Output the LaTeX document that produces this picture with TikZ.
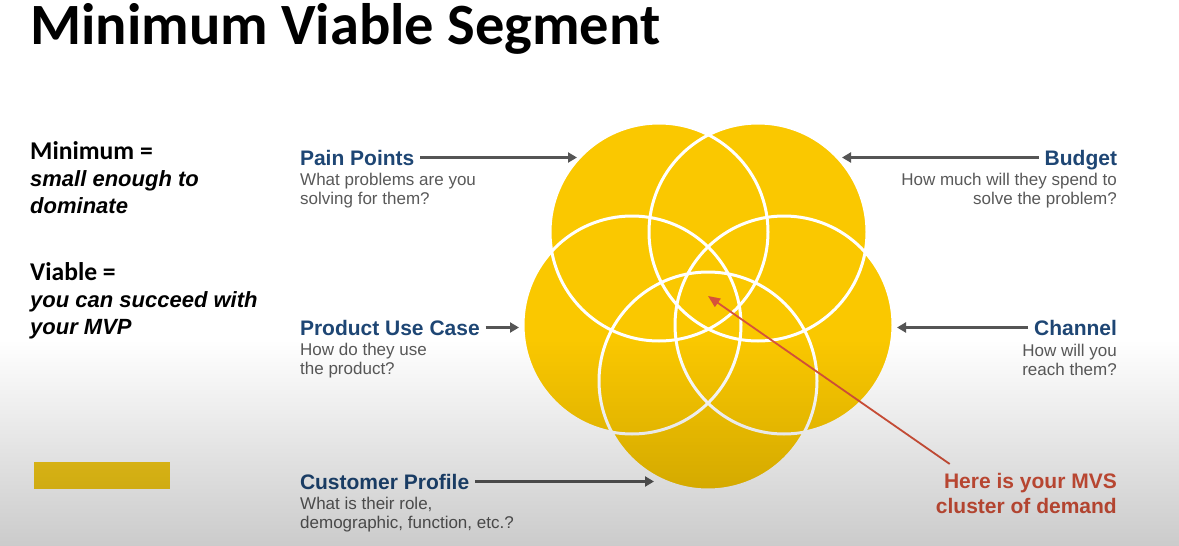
\documentclass[tikz,border=0pt]{standalone}
\usepackage{fontspec}
\setmainfont{Liberation Sans}
\newfontfamily\titlefont{Carlito}
\usetikzlibrary{arrows.meta}

\definecolor{mvsyellow}{HTML}{FAC800}
\definecolor{bargold}{HTML}{F4CA17}
\definecolor{headblue}{HTML}{1E4674}
\definecolor{descgray}{HTML}{595959}
\definecolor{arrowgray}{HTML}{555555}
\definecolor{mvsred}{HTML}{D6523A}
\definecolor{floorgray}{HTML}{CBCBCB}

% soft grey floor that darkens the lower part of the slide
% (the path is fitted to the central 25bp--75bp band of the shading)
\pgfdeclareverticalshading{floorfade}{100bp}{color(0bp)=(floorgray); color(25bp)=(floorgray); color(75bp)=(white); color(100bp)=(white)}

\begin{document}
\begin{tikzpicture}[x=1pt,y=-1pt,
  heading/.style={font=\fontsize{21}{25}\selectfont\bfseries, text=headblue,
    inner sep=0pt, outer sep=0pt, text height=15pt, text depth=0pt},
  desc/.style={font=\fontsize{17}{19}\selectfont, text=descgray, inner sep=0pt},
  keyword/.style={font=\titlefont\fontsize{25.6}{28}\selectfont\bfseries, inner sep=0pt},
  meaning/.style={font=\fontsize{22}{27}\selectfont\bfseries\itshape, inner sep=0pt, align=left},
  petal/.style={circle, minimum size=218pt, inner sep=0pt, fill=mvsyellow},
  ring/.style={draw=white, line width=3pt},
  pointer/.style={draw=arrowgray, line width=2.2pt, shorten <=6pt, -{Triangle[length=9pt,width=10pt]}},
  redpointer/.style={draw=mvsred, line width=1.8pt, -{Triangle[length=12pt,width=10pt]}},
]
\useasboundingbox (0,0) rectangle (1179,546);
\fill[white] (0,0) rectangle (1179,546);

% title
\node[anchor=base west, inner sep=0pt, font=\titlefont\fontsize{58.5}{60}\selectfont\bfseries] (title) at (30,44) {Minimum Viable Segment};

% definitions on the left
\node[keyword, anchor=base west] (minimum) at (30,159) {Minimum =};
\node[meaning, anchor=north west] (minimumdef) at (30,170.3) {small enough to\\dominate};
\node[keyword, anchor=base west] (viable) at (30,280) {Viable =};
\node[meaning, anchor=north west] (viabledef) at (30,291.3) {you can succeed with\\your MVP};

% gold bar
\node[fill=bargold, minimum width=136pt, minimum height=27pt, inner sep=0pt, anchor=north west] (bar) at (34,462) {};

% five overlapping circles
\node[petal] (cA) at (659,232) {};
\node[petal] (cB) at (758,232) {};
\node[petal] (cC) at (632,325) {};
\node[petal] (cD) at (784,325) {};
\node[petal] (cE) at (708,381) {};
\foreach \c in {cA,cB,cC,cD,cE}
  \draw[ring] (\c.center) circle[radius=109];
\coordinate (core) at (708,296);

% arrow tips on the circles
\coordinate (ppTip) at (577,157.5);
\coordinate (bgTip) at (842,157.5);
\coordinate (ucTip) at (519,327.5);
\coordinate (chTip) at (897,327.5);
\coordinate (cpTip) at (654,481.5);

% labels
\node[heading, anchor=base west] (pp) at (300,165) {Pain Points};
\node[desc, anchor=north west, align=left] (ppd) at (300,172.8) {What problems are you\\solving for them?};

\node[heading, anchor=base east] (bg) at (1117,165) {Budget};
\node[desc, anchor=north east, align=right] (bgd) at (1117,172.8) {How much will they spend to\\solve the problem?};

\node[heading, anchor=base west] (uc) at (300,335) {Product Use Case};
\node[desc, anchor=north west, align=left] (ucd) at (300,343.3) {How do they use\\the product?};

\node[heading, anchor=base east] (ch) at (1117,335) {Channel};
\node[desc, anchor=north east, align=right] (chd) at (1117,343.8) {How will you\\reach them?};

\node[heading, anchor=base west] (cp) at (300,489) {Customer Profile};
\node[desc, anchor=north west, align=left] (cpd) at (300,497.3) {What is their role,\\demographic, function, etc.?};

\node[anchor=north east, align=right, inner sep=0pt, text=mvsred,
  font=\fontsize{21}{25}\selectfont\bfseries] (mvs) at (1117,473) {Here is your MVS\\cluster of demand};

% connectors
\draw[pointer] (pp.east) -- (ppTip);
\draw[pointer] (bg.west) -- (bgTip);
\draw[pointer] (uc.east) -- (ucTip);
\draw[pointer] (ch.west) -- (chTip);
\draw[pointer] (cp.east) -- (cpTip);
\draw[redpointer] ([shift={(14,-9)}]mvs.north west) -- (core);

% grey floor laid over everything
\begin{scope}[blend mode=multiply]
  \shade[shading=floorfade] (0,340) rectangle (1179,546);
\end{scope}
\end{tikzpicture}
\end{document}
